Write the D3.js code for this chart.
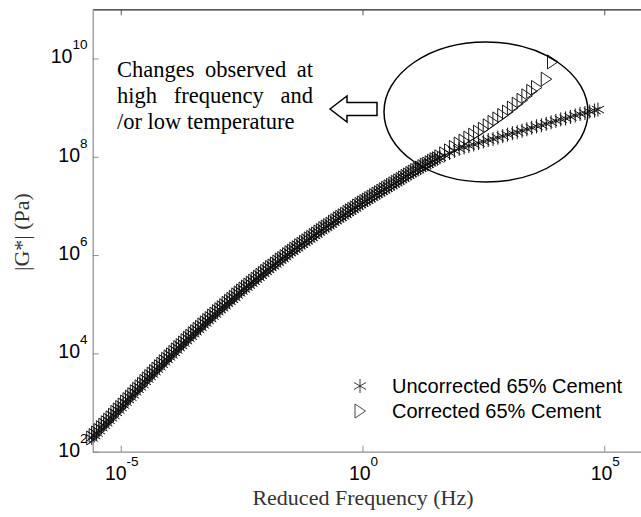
<!DOCTYPE html>
<html>
<head>
<meta charset="utf-8">
<script src="https://cdn.jsdelivr.net/npm/d3@7"></script>
<style>
  html, body { margin: 0; padding: 0; background: #fff; }
  svg { display: block; }
</style>
</head>
<body>
<script>
// ---- data (log10 values) ----
// part of the master curve where both series coincide
const logFreqShared = [-5.6,-5.55,-5.5,-5.45,-5.4,-5.35,-5.3,-5.25,-5.2,-5.15,-5.1,-5.05,-5.0,-4.95,-4.9,-4.85,-4.8,-4.75,-4.7,-4.65,-4.6,-4.55,-4.5,-4.45,-4.4,-4.35,-4.3,-4.25,-4.2,-4.15,-4.1,-4.05,-4.0,-3.95,-3.9,-3.85,-3.8,-3.75,-3.7,-3.65,-3.6,-3.55,-3.5,-3.45,-3.4,-3.35,-3.3,-3.25,-3.2,-3.15,-3.1,-3.05,-3.0,-2.95,-2.9,-2.85,-2.8,-2.75,-2.7,-2.65,-2.6,-2.55,-2.5,-2.45,-2.4,-2.35,-2.3,-2.25,-2.2,-2.15,-2.1,-2.05,-2.0,-1.95,-1.9,-1.85,-1.8,-1.75,-1.7,-1.65,-1.6,-1.55,-1.5,-1.45,-1.4,-1.35,-1.3,-1.25,-1.2,-1.15,-1.1,-1.05,-1.0,-0.95,-0.9,-0.85,-0.8,-0.75,-0.7,-0.65,-0.6,-0.55,-0.5,-0.45,-0.4,-0.35,-0.3,-0.25,-0.2,-0.15,-0.1,-0.05,0.0,0.05,0.1,0.15,0.2,0.25,0.3,0.35,0.4,0.45,0.5,0.55,0.6,0.65,0.7,0.75,0.8,0.85,0.9,0.95,1.0,1.05,1.1,1.15,1.2,1.25,1.3,1.35,1.4,1.45,1.5,1.55];
const logGShared = [2.28,2.33,2.38,2.43,2.49,2.54,2.59,2.64,2.69,2.74,2.80,2.85,2.90,2.95,3.01,3.06,3.11,3.16,3.22,3.27,3.32,3.37,3.43,3.48,3.53,3.58,3.63,3.68,3.73,3.78,3.83,3.88,3.93,3.97,4.02,4.07,4.12,4.16,4.21,4.26,4.31,4.35,4.40,4.44,4.49,4.53,4.58,4.62,4.67,4.71,4.76,4.80,4.85,4.89,4.93,4.97,5.02,5.06,5.10,5.14,5.19,5.23,5.27,5.31,5.35,5.39,5.43,5.47,5.51,5.55,5.59,5.63,5.67,5.71,5.75,5.78,5.82,5.86,5.90,5.93,5.97,6.01,6.05,6.08,6.12,6.15,6.19,6.22,6.26,6.29,6.33,6.36,6.40,6.43,6.47,6.50,6.54,6.57,6.60,6.63,6.67,6.70,6.74,6.77,6.80,6.83,6.87,6.90,6.93,6.96,7.00,7.03,7.06,7.09,7.12,7.15,7.18,7.21,7.24,7.27,7.30,7.33,7.36,7.39,7.42,7.45,7.48,7.51,7.54,7.57,7.60,7.63,7.66,7.69,7.72,7.74,7.77,7.80,7.83,7.85,7.88,7.91,7.94,7.96];
// high-frequency tails where the series diverge
const logFreqUncorrectedTail = [1.6,1.7,1.8,1.9,2.0,2.1,2.2,2.3,2.4,2.5,2.6,2.7,2.8,2.9,3.0,3.1,3.2,3.3,3.4,3.5,3.6,3.7,3.8,3.9,4.0,4.1,4.2,4.3,4.4,4.5,4.6,4.7,4.8,4.87];
const logGUncorrectedTail = [7.99,8.03,8.08,8.12,8.16,8.19,8.22,8.25,8.28,8.31,8.34,8.36,8.39,8.42,8.45,8.48,8.50,8.53,8.56,8.59,8.62,8.64,8.67,8.70,8.73,8.76,8.78,8.81,8.84,8.87,8.89,8.92,8.94,8.96];
const logFreqCorrectedTail = [1.6,1.7,1.8,1.9,2.0,2.1,2.2,2.3,2.4,2.5,2.6,2.7,2.8,2.9,3.0,3.1,3.2,3.3,3.4,3.5,3.6,3.8,3.93];
const logGCorrectedTail = [8.00,8.06,8.12,8.19,8.26,8.32,8.38,8.44,8.50,8.56,8.63,8.70,8.77,8.84,8.91,8.99,9.07,9.15,9.24,9.33,9.41,9.58,9.93];

const xTickExps = [-5, 0, 5];
const yTickExps = [2, 4, 6, 8, 10];
const seriesNames = ["Uncorrected 65% Cement", "Corrected 65% Cement"];
const annotationLines = ["Changes observed at", "high frequency and", "/or low temperature"];
const xLabel = "Reduced Frequency (Hz)";
const yLabel = "|G*| (Pa)";

// ---- layout ----
const W = 641, H = 517;
const svg = d3.select("body").append("svg").attr("width", W).attr("height", H);

const x = d3.scaleLog().domain([2.63e-6, 1e6]).range([92.7, 652.6]);
const y = d3.scaleLog().domain([1e2, 1e11]).range([451.7, 9.3]);

const axisGray = "#8c8c8c";

// axes
const gx = svg.append("g").attr("transform", `translate(0,${y.range()[0]})`)
  .call(d3.axisBottom(x).tickValues(xTickExps.map(e => Math.pow(10, e)))
    .tickSizeInner(-6).tickSizeOuter(0).tickFormat(() => ""));
const gxTop = svg.append("g").attr("transform", `translate(0,${y.range()[1]})`)
  .call(d3.axisTop(x).tickValues(xTickExps.map(e => Math.pow(10, e)))
    .tickSizeInner(-6).tickSizeOuter(0).tickFormat(() => ""));
const gy = svg.append("g").attr("transform", `translate(${x.range()[0]},0)`)
  .call(d3.axisLeft(y).tickValues(yTickExps.map(e => Math.pow(10, e)))
    .tickSizeInner(-6).tickSizeOuter(0).tickFormat(() => ""));

gx.selectAll("path.domain").attr("stroke", axisGray).attr("stroke-width", 1.2);
gx.selectAll(".tick line").attr("stroke", axisGray);
gy.selectAll("path.domain").attr("stroke", axisGray).attr("stroke-width", 1.2);
gy.selectAll(".tick line").attr("stroke", axisGray);
gxTop.selectAll("path.domain").attr("stroke", "#222").attr("stroke-width", 1.2);
gxTop.selectAll(".tick line").attr("stroke", "#555");

// tick labels with superscripts
const tickFont = "Liberation Sans, Arial, sans-serif";
yTickExps.forEach(e => {
  const t = svg.append("text")
    .attr("x", 87.5).attr("y", y(Math.pow(10, e)) + 5)
    .attr("text-anchor", "end")
    .attr("font-family", tickFont).attr("font-size", 19.5).attr("fill", "#000");
  t.append("tspan").text("10");
  t.append("tspan").attr("dy", -14).attr("font-size", 13.5).text(String(e));
});
xTickExps.forEach(e => {
  const t = svg.append("text")
    .attr("x", x(Math.pow(10, e)) + 1).attr("y", 480)
    .attr("text-anchor", "middle")
    .attr("font-family", tickFont).attr("font-size", 19.5).attr("fill", "#000");
  t.append("tspan").text("10");
  t.append("tspan").attr("dy", -14).attr("font-size", 13.5).text(String(e));
});

// axis titles
const serif = "Liberation Serif, Times New Roman, serif";
svg.append("text").attr("x", 363).attr("y", 505).attr("text-anchor", "middle")
  .attr("font-family", serif).attr("font-size", 22).attr("fill", "#333").text(xLabel);
svg.append("text").attr("transform", "translate(29,232) rotate(-90)").attr("text-anchor", "middle")
  .attr("font-family", serif).attr("font-size", 22).attr("fill", "#333").text(yLabel);

// markers
const triPath = "M-5,-7L5.5,0L-5,7Z";
const astPath = "M0,-7L0,7M-6.1,-3.5L6.1,3.5M-6.1,3.5L6.1,-3.5";

const toPoints = (fs, gs) => fs.map((f, i) => ({ f: Math.pow(10, f), g: Math.pow(10, gs[i]) }));
const corrected = toPoints(logFreqShared.concat(logFreqCorrectedTail), logGShared.concat(logGCorrectedTail));
const uncorrected = toPoints(logFreqShared.concat(logFreqUncorrectedTail), logGShared.concat(logGUncorrectedTail));

svg.append("g").selectAll("path").data(corrected).join("path")
  .attr("d", triPath)
  .attr("transform", d => `translate(${x(d.f)},${y(d.g)})`)
  .attr("fill", "none").attr("stroke", "#1a1a1a").attr("stroke-width", 1.0);

svg.append("g").selectAll("path").data(uncorrected).join("path")
  .attr("d", astPath)
  .attr("transform", d => `translate(${x(d.f)},${y(d.g)})`)
  .attr("fill", "none").attr("stroke", "#111").attr("stroke-width", 1.0);

// ellipse
svg.append("ellipse").attr("cx", 486).attr("cy", 112).attr("rx", 102).attr("ry", 70)
  .attr("fill", "none").attr("stroke", "#000").attr("stroke-width", 1.5);

// hollow arrow
const ay = 109;
svg.append("path")
  .attr("d", `M330,${ay} L347,${ay-13} L347,${ay-6.5} L377,${ay-6.5} L377,${ay+6.5} L347,${ay+6.5} L347,${ay+13} Z`)
  .attr("fill", "#fff").attr("stroke", "#000").attr("stroke-width", 1.5).attr("stroke-linejoin", "miter");

// annotation text (justified lines)
const annX0 = 117, annX1 = 313;
const baselines = [77, 103, 129];
annotationLines.forEach((line, li) => {
  const words = line.split(" ");
  const justify = li < annotationLines.length - 1;
  const nodes = words.map(w => svg.append("text").attr("y", baselines[li])
    .attr("font-family", serif).attr("font-size", 22.5).attr("fill", "#000").text(w));
  const widths = nodes.map(n => n.node().getComputedTextLength());
  const total = d3.sum(widths);
  const gap = justify ? (annX1 - annX0 - total) / (words.length - 1) : 5.6;
  let cx = annX0;
  nodes.forEach((n, i) => { n.attr("x", cx); cx += widths[i] + gap; });
});

// legend
const legX = 360, legY = [386, 411];
svg.append("path").attr("d", astPath).attr("transform", `translate(${legX},${legY[0]})`)
  .attr("fill", "none").attr("stroke", "#222").attr("stroke-width", 0.9);
svg.append("path").attr("d", triPath).attr("transform", `translate(${legX},${legY[1]})`)
  .attr("fill", "none").attr("stroke", "#333").attr("stroke-width", 0.9);
seriesNames.forEach((name, i) => {
  svg.append("text").attr("x", 392).attr("y", legY[i] + 7)
    .attr("font-family", tickFont).attr("font-size", 20).attr("fill", "#000").text(name);
});
</script>
</body>
</html>
